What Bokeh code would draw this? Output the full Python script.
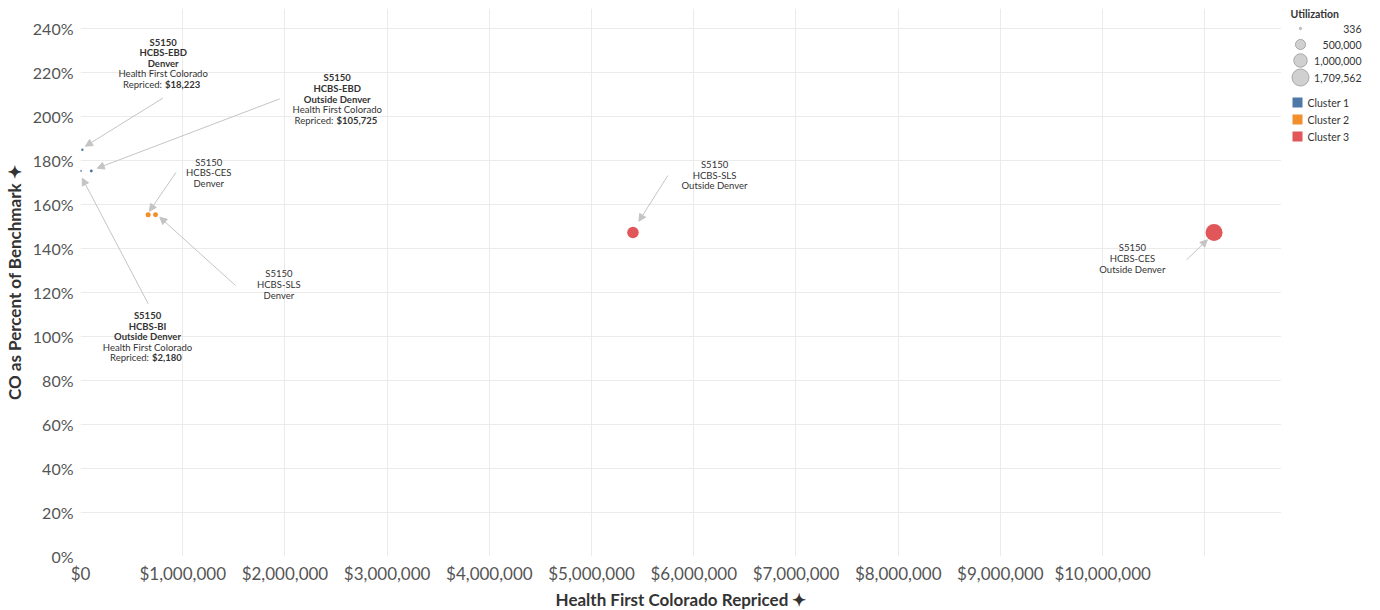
import math
from bokeh.plotting import figure
from bokeh.models import Range1d, FixedTicker, NumeralTickFormatter, Label, Arrow, NormalHead
from bokeh.layouts import row
from bokeh.embed import file_html
from bokeh.resources import INLINE

# ---------------- data ----------------
procedure = ["S5150"] * 7
services = ["HCBS-EBD", "HCBS-EBD", "HCBS-BI", "HCBS-CES", "HCBS-SLS", "HCBS-SLS", "HCBS-CES"]
regions = ["Denver", "Outside Denver", "Outside Denver", "Denver", "Denver", "Outside Denver", "Outside Denver"]
repriced = [18223, 105725, 2180, 662000, 734000, 5405000, 11090000]
pct_benchmark = [1.848, 1.752, 1.752, 1.553, 1.553, 1.472, 1.472]
utilization = [1200, 6500, 336, 70000, 66000, 690000, 1709562]
cluster = [1, 1, 1, 2, 2, 3, 3]
show_repriced = [True, True, True, False, False, False, False]

size_legend_values = [336, 500000, 1000000, 1709562]
cluster_names = ["Cluster 1", "Cluster 2", "Cluster 3"]
cluster_colors = ["#4e79a7", "#f28e2b", "#e15759"]

x_ticks = [i * 1_000_000 for i in range(11)]
x_grid = [i * 1_000_000 for i in range(12)]
y_ticks = [round(i * 0.2, 2) for i in range(13)]

# ---------------- layout constants ----------------
X_END = 11_750_000
Y_END = 2.49
FW, FH = 1201, 548
FONT = "Lato"
MAXU = max(size_legend_values)
H = 604
TOP = 8


def diam(u):
    return 2 + 15 * math.sqrt(u / MAXU)


p = figure(frame_width=FW, frame_height=FH,
           x_range=Range1d(0, X_END), y_range=Range1d(0, Y_END),
           output_backend="svg", toolbar_location=None,
           min_border_left=80, min_border_right=0, min_border_top=TOP,
           min_border_bottom=H - FH - TOP)
p.outline_line_color = None
p.background_fill_color = "white"

for ax in (p.xaxis[0], p.yaxis[0]):
    ax.axis_line_color = None
    ax.major_tick_line_color = None
    ax.minor_tick_line_color = None
    ax.major_tick_out = 0
    ax.major_tick_in = 0
    ax.minor_tick_out = 0
    ax.minor_tick_in = 0
    ax.major_label_text_font = FONT
    ax.major_label_text_color = "#555555"
    ax.axis_label_text_font = FONT
    ax.axis_label_text_font_style = "bold"
    ax.axis_label_text_color = "#333333"

p.xaxis.ticker = FixedTicker(ticks=x_ticks)
p.xaxis.formatter = NumeralTickFormatter(format="$0,0")
p.xaxis.major_label_text_font_size = "17px"
p.xaxis.major_label_standoff = 6
p.xaxis.axis_label = "Health First Colorado Repriced ✦"
p.xaxis.axis_label_text_font_size = "17px"
p.xaxis.axis_label_standoff = 2

p.yaxis.ticker = FixedTicker(ticks=y_ticks)
p.yaxis.formatter = NumeralTickFormatter(format="0%")
p.yaxis.major_label_text_font_size = "16px"
p.yaxis.major_label_standoff = 7
p.yaxis.axis_label = "CO as Percent of Benchmark ✦"
p.yaxis.axis_label_text_font_size = "17px"
p.yaxis.axis_label_standoff = 5

p.xgrid.ticker = FixedTicker(ticks=x_grid)
p.ygrid.ticker = FixedTicker(ticks=y_ticks)
p.grid.grid_line_color = "#ebebeb"
p.grid.grid_line_width = 1

# ---------------- annotations ----------------
SX = X_END / FW
SY = Y_END / FH
text_off = [(80.8, -107.6), (245.9, -93.1), (66.8, 144.6), (60.6, -52.5),
            (123.3, 59.1), (81.6, -68.0), (-81.7, 15.3)]
arrow_start = [(80.4, -51.6), (188.5, -72.1), (67.5, 132.9), (28.0, -42.5),
               (80.0, 70.8), (34.9, -57.0), (-27.4, 27.3)]
arrow_end = [(3.1, -3.6), (5.9, -2.7), (1.5, 7.3), (1.3, -3.5),
             (4.3, 2.5), (5.9, -11.3), (-6.7, 7.3)]
LH = 10.6
ACOL = "#c4c4c4"

for i in range(len(repriced)):
    x, y = repriced[i], pct_benchmark[i]
    tx, ty = text_off[i]
    if show_repriced[i]:
        lines = [(procedure[i], "bold"), (services[i], "bold"), (regions[i], "bold"),
                 ("Health First Colorado", "normal")]
    else:
        lines = [(procedure[i], "normal"), (services[i], "normal"), (regions[i], "normal")]
    for k, (t, st) in enumerate(lines):
        p.add_layout(Label(x=x, y=y, x_offset=tx, y_offset=-(ty + k * LH), text=t,
                           text_align="center", text_baseline="middle", text_font=FONT,
                           text_font_size="9.5px", text_font_style=st, text_color="#333333"))
    if show_repriced[i]:
        val = "${:,}".format(repriced[i])
        w1 = 37.0
        w2 = 5.2 * len(val)
        split = tx + (w1 - w2) / 2
        k = len(lines)
        p.add_layout(Label(x=x, y=y, x_offset=split - 1.5, y_offset=-(ty + k * LH), text="Repriced:",
                           text_align="right", text_baseline="middle", text_font=FONT,
                           text_font_size="9.5px", text_color="#333333"))
        p.add_layout(Label(x=x, y=y, x_offset=split + 1.5, y_offset=-(ty + k * LH), text=val,
                           text_align="left", text_baseline="middle", text_font=FONT,
                           text_font_size="9.5px", text_font_style="bold", text_color="#333333"))
    sx0, sy0 = arrow_start[i]
    ex0, ey0 = arrow_end[i]
    p.add_layout(Arrow(end=NormalHead(size=7, fill_color=ACOL, line_color=ACOL),
                       x_start=x + sx0 * SX, y_start=y - sy0 * SY,
                       x_end=x + ex0 * SX, y_end=y - ey0 * SY,
                       line_color=ACOL, line_width=1))

p.scatter(x=repriced, y=pct_benchmark, size=[diam(u) for u in utilization],
          fill_color=[cluster_colors[c - 1] for c in cluster], line_color=None)

# ---------------- legend panel (data y == page y) ----------------
LW = 95
leg = figure(width=LW, height=H, frame_width=LW, frame_height=FH,
             x_range=Range1d(0, LW), y_range=Range1d(TOP + FH, TOP),
             output_backend="svg", toolbar_location=None,
             x_axis_location=None, y_axis_location=None,
             min_border_left=0, min_border_right=0, min_border_top=TOP,
             min_border_bottom=H - FH - TOP)
leg.grid.visible = False
leg.outline_line_color = None

leg.add_layout(Label(x=9, y=13, text="Utilization", text_align="left", text_baseline="middle",
                     text_font=FONT, text_font_size="10.5px", text_font_style="bold",
                     text_color="#333333"))
size_rows = [28, 44, 60, 77]
leg.scatter(x=[19] * len(size_legend_values), y=size_rows,
            size=[diam(u) for u in size_legend_values],
            fill_color="#d0d0d0", line_color="#a8a8a8", line_width=1)
for yy, u in zip(size_rows, size_legend_values):
    leg.add_layout(Label(x=80, y=yy, text="{:,}".format(u), text_align="right",
                         text_baseline="middle", text_font=FONT, text_font_size="10.5px",
                         text_color="#333333"))
cl_rows = [102, 119, 136]
leg.scatter(x=[16] * 3, y=cl_rows, marker="square", size=10,
            fill_color=cluster_colors, line_color=None)
for yy, name in zip(cl_rows, cluster_names):
    leg.add_layout(Label(x=26, y=yy, text=name, text_align="left", text_baseline="middle",
                         text_font=FONT, text_font_size="10.5px", text_color="#333333"))

layout = row(p, leg)
open("out.html", "w").write(file_html(layout, INLINE))
